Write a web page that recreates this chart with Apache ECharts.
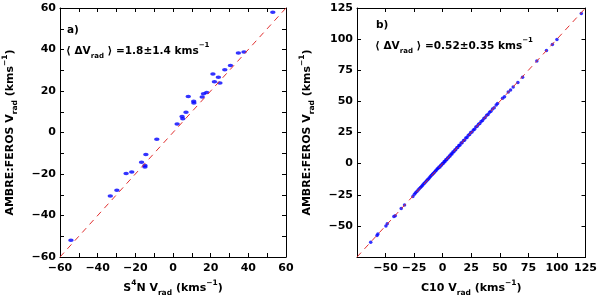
<!DOCTYPE html>
<html>
<head>
<meta charset="utf-8">
<script src="https://cdn.jsdelivr.net/npm/echarts@6/dist/echarts.min.js"></script>
<style>html,body{margin:0;padding:0;background:#fff}#c{width:600px;height:302px}</style>
</head>
<body>
<div id="c"></div>
<script>
// Panel a) S4N vs AMBRE:FEROS
const s4nV   = [53.0, 34.7, 37.7, 30.5, 27.5, 21.2, 24.1, 22.0, 24.9, 17.9, 16.2, 15.5, 8.1, 11.0, 11.1, 6.9, 4.8, 5.2, 2.2, -8.6, -14.4, -16.7, -14.9, -14.9, -24.9, -21.9, -29.8, -33.3, -54.2];
const ambreA = [58.0, 38.3, 38.8, 32.3, 30.3, 28.2, 26.6, 24.4, 23.9, 19.3, 18.7, 17.1, 17.3, 15.1, 14.2, 9.7, 7.7, 6.6, 4.1, -3.2, -10.6, -14.3, -15.9, -16.6, -19.7, -19.0, -27.8, -30.6, -51.9];
// Panel b) C10 vs AMBRE:FEROS
const c10V = [121.3, 100.0, 96.0, 90.8, 82.4, 69.9, 65.8, 61.7, 59.4, 57.4, 54.1, 52.4, 48.0,
  46.8, 45.1, 43.6, 42.2, 41.0, 39.7, 38.5, 37.2, 36.0, 34.9, 33.6, 32.5, 31.3, 30.2, 29.0, 27.9, 26.8, 25.7, 24.5, 23.6, 22.4, 21.3, 20.2, 19.1, 18.2, 17.0, 16.1, 15.0, 14.1, 13.2, 12.3, 11.4, 10.6, 9.8, 8.9, 8.1, 7.3, 6.5, 5.8, 5.0, 4.2, 3.5, 2.7, 2.0, 1.3, 0.6, -0.2, -0.9, -1.7, -2.4, -3.2, -4.0, -4.8, -5.7, -6.5, -7.4, -8.3, -9.1, -10.0, -10.9, -11.8, -12.8, -13.7, -14.6, -15.6, -16.5, -17.5, -18.4, -19.4, -20.5, -21.5, -22.6, -23.7, -24.8, -26.1,
  -33.4, -36.3, -41.5, -42.7, -48.5, -49.7, -56.7, -57.5, -63.0];
const ambreB = [120.6, 99.6, 95.7, 90.8, 82.5, 69.3, 65.2, 61.6, 59.2, 57.6, 53.8, 52.6, 48.2,
  47.1, 44.8, 43.9, 42.0, 41.3, 39.5, 38.9, 37.0, 36.3, 34.6, 33.9, 32.2, 31.6, 30.0, 29.4, 27.6, 27.1, 25.4, 24.9, 23.3, 22.8, 21.0, 20.6, 18.8, 18.6, 16.7, 16.5, 14.7, 14.5, 12.9, 12.7, 11.1, 11.0, 9.5, 9.3, 7.8, 7.7, 6.2, 6.2, 4.7, 4.6, 3.2, 3.1, 1.7, 1.7, 0.3, 0.2, -1.2, -1.3, -2.7, -2.8, -3.7, -4.4, -5.4, -6.1, -7.1, -7.9, -8.8, -9.6, -10.6, -11.5, -12.5, -13.3, -14.3, -15.3, -16.2, -17.2, -18.1, -19.1, -20.2, -21.2, -22.3, -23.4, -24.5, -26.4,
  -33.2, -36.0, -41.8, -42.5, -48.3, -50.0, -56.5, -57.8, -63.2];
const rangeA = [-60, 60];
const rangeB = [-75, 125];

const FF = '"DejaVu Sans", "Liberation Sans", sans-serif';
const rich = {
  n:   {fontFamily: FF, fontWeight: 'bold', fontSize: 11, lineHeight: 18, color: '#000'},
  sub: {fontFamily: FF, fontWeight: 'bold', fontSize: 7.5, lineHeight: 9, verticalAlign: 'bottom', color: '#000'},
  sup: {fontFamily: FF, fontWeight: 'bold', fontSize: 7.5, lineHeight: 9, verticalAlign: 'top', color: '#000'}
};
const richT = {
  n:   {fontFamily: FF, fontWeight: 'bold', fontSize: 10.5, lineHeight: 18, color: '#000'},
  sub: {fontFamily: FF, fontWeight: 'bold', fontSize: 7, lineHeight: 9, verticalAlign: 'bottom', color: '#000'},
  sup: {fontFamily: FF, fontWeight: 'bold', fontSize: 7, lineHeight: 9, verticalAlign: 'top', color: '#000'}
};
const minus = v => (v < 0 ? '\u2212' + Math.abs(v) : '' + v);
const axisLabel = {fontFamily: FF, fontWeight: 'bold', fontSize: 11, color: '#000', margin: 4, formatter: minus};
const tick = {show: true, inside: true, length: 4, lineStyle: {color: '#000', width: 1}};
const line = {show: true, onZero: false, lineStyle: {color: '#000', width: 1}};

function mainX(gi, r, interval, name, opts) {
  return Object.assign({type: 'value', gridIndex: gi, min: r[0], max: r[1], interval: interval, position: 'bottom',
    axisLine: line, axisTick: tick, splitLine: {show: false}, axisLabel: Object.assign({}, axisLabel, {margin: 6}),
    name: name, nameLocation: 'middle', nameGap: 22, nameTextStyle: {rich: rich}}, opts || {});
}
function mainY(gi, r, interval, name, opts) {
  return Object.assign({type: 'value', gridIndex: gi, min: r[0], max: r[1], interval: interval, position: 'left',
    axisLine: line, axisTick: tick, splitLine: {show: false}, axisLabel: axisLabel,
    name: name, nameLocation: 'middle', nameGap: 41, nameRotate: 90, nameTextStyle: {rich: rich}}, opts || {});
}
function mirror(gi, r, interval, pos, minor) {
  return {type: 'value', gridIndex: gi, min: r[0], max: r[1], interval: interval, position: pos,
    axisLine: line, axisTick: tick, axisLabel: {show: false}, splitLine: {show: false},
    minorTick: minor ? {show: true, splitNumber: 2, length: 4, lineStyle: {color: '#000'}} : {show: false}};
}
const minorTickA = {show: true, splitNumber: 2, length: 4, lineStyle: {color: '#000'}};

const xName = '{n|S}{sup|4}{n|N V}{sub|rad}{n| (kms}{sup|\u22121}{n|)}';
const xNameB = '{n|C10 V}{sub|rad}{n| (kms}{sup|\u22121}{n|)}';
const yName = '{n|AMBRE:FEROS V}{sub|rad}{n| (kms}{sup|\u22121}{n|)}';

const option = {
  animation: false,
  backgroundColor: '#fff',
  grid: [
    {left: 57, top: 8, width: 229, height: 258, show: false},
    {left: 357, top: 8, width: 230, height: 258, show: false}
  ],
  xAxis: [
    mainX(0, rangeA, 20, xName, {minorTick: minorTickA}),
    mainX(1, rangeB, 25, xNameB, {axisLabel: Object.assign({}, axisLabel, {margin: 6, showMinLabel: false})}),
    mirror(0, rangeA, 20, 'top', true),
    mirror(1, rangeB, 25, 'top', false)
  ],
  yAxis: [
    mainY(0, rangeA, 20, yName, {minorTick: minorTickA}),
    mainY(1, rangeB, 25, yName, {axisLabel: Object.assign({}, axisLabel, {showMinLabel: false})}),
    mirror(0, rangeA, 20, 'right', true),
    mirror(1, rangeB, 25, 'right', false)
  ],
  series: [
    {type: 'scatter', xAxisIndex: 0, yAxisIndex: 0, symbol: 'circle', symbolSize: [5.5, 3.5],
      itemStyle: {color: '#0000ff'}, data: s4nV.map((v, i) => [v, ambreA[i]]), z: 2},
    {type: 'line', xAxisIndex: 0, yAxisIndex: 0, symbol: 'none', data: [[rangeA[0], rangeA[0]], [rangeA[1], rangeA[1]]],
      lineStyle: {color: '#e03030', width: 1, type: [6, 5]}, z: 3},
    {type: 'scatter', xAxisIndex: 1, yAxisIndex: 1, symbol: 'circle', symbolSize: 3.5,
      itemStyle: {color: '#0000ff'}, data: c10V.map((v, i) => [v, ambreB[i]]), z: 2},
    {type: 'line', xAxisIndex: 1, yAxisIndex: 1, symbol: 'none', data: [[rangeB[0], rangeB[0]], [rangeB[1], rangeB[1]]],
      lineStyle: {color: '#e03030', width: 1, type: [6, 5]}, z: 3}
  ],
  graphic: [
    {type: 'text', left: 67, top: 25, style: {text: '{n|a)}', rich: richT}},
    {type: 'text', left: 66, top: 42, style: {text: '{n|\u27E8 \u0394V}{sub|rad}{n| \u27E9 =1.8\u00B11.4 kms}{sup|\u22121}', rich: richT}},
    {type: 'text', left: 376, top: 20, style: {text: '{n|b)}', rich: richT}},
    {type: 'text', left: 375, top: 37, style: {text: '{n|\u27E8 \u0394V}{sub|rad}{n| \u27E9 =0.52\u00B10.35 kms}{sup|\u22121}', rich: richT}}
  ]
};
echarts.init(document.getElementById('c'), null, {renderer: 'canvas'}).setOption(option);
</script>
</body>
</html>
